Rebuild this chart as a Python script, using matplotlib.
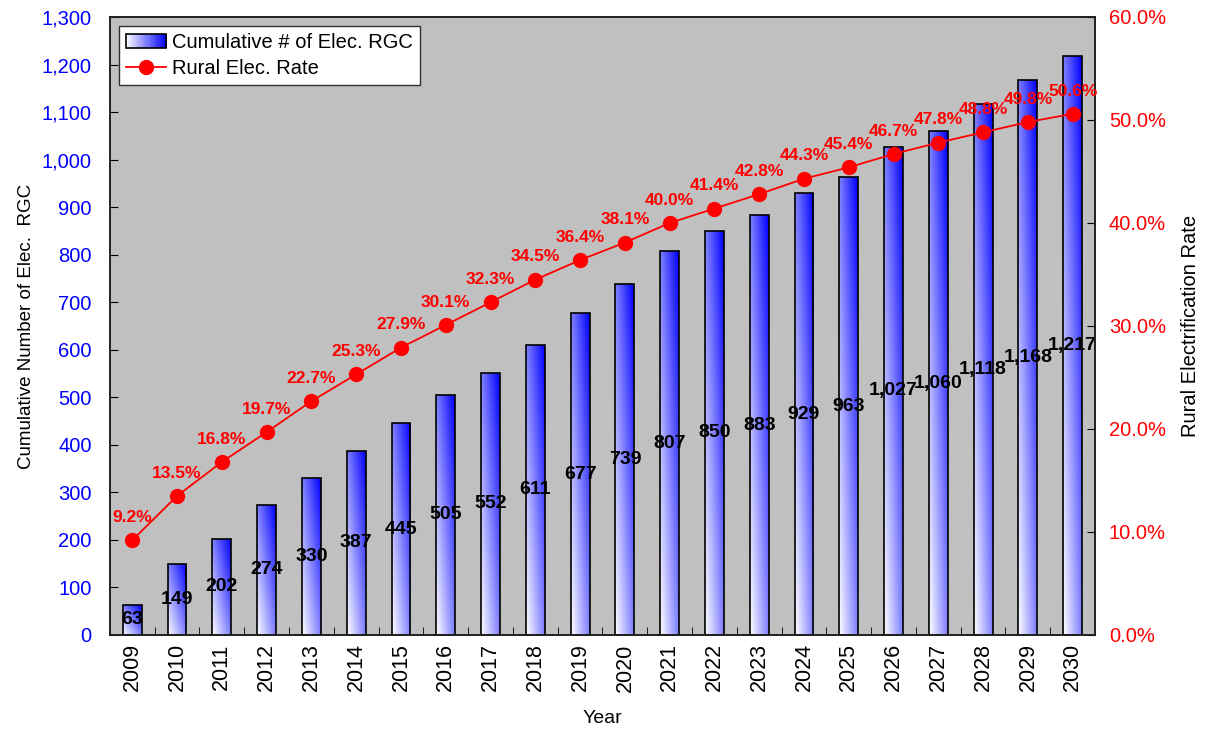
import numpy as np
import matplotlib
matplotlib.use("Agg")
import matplotlib.pyplot as plt
from matplotlib.patches import Rectangle
from matplotlib.lines import Line2D
from matplotlib.legend_handler import HandlerBase
from matplotlib.ticker import FuncFormatter, MultipleLocator

plt.rcParams['font.family'] = ['Liberation Sans', 'DejaVu Sans']

# data
years = [str(y) for y in range(2009, 2031)]
rgc_count = [63, 149, 202, 274, 330, 387, 445, 505, 552, 611, 677, 739,
             807, 850, 883, 929, 963, 1027, 1060, 1118, 1168, 1217]
elec_rate = [9.2, 13.5, 16.8, 19.7, 22.7, 25.3, 27.9, 30.1, 32.3, 34.5, 36.4,
             38.1, 40.0, 41.4, 42.8, 44.3, 45.4, 46.7, 47.8, 48.8, 49.8, 50.6]

x = np.arange(len(years))
bar_w = 0.42

# white -> blue diagonal gradient used for the bars
uu, vv = np.meshgrid(np.linspace(0, 1, 40), np.linspace(0, 1, 200))
t = 0.5 * (uu + vv)
grad = np.dstack([1 - t, 1 - t, np.ones_like(t)])


class GradHandler(HandlerBase):
    # legend box drawn as a few vertical strips going white -> blue
    def create_artists(self, legend, orig_handle, xdescent, ydescent,
                       width, height, fontsize, trans):
        arts = []
        n = 24
        for i in range(n):
            c = (i + 0.5) / n
            r = Rectangle((-xdescent + width * i / n, -ydescent), width / n + 0.3,
                          height, facecolor=(1 - c, 1 - c, 1), edgecolor='none',
                          transform=trans)
            arts.append(r)
        arts.append(Rectangle((-xdescent, -ydescent), width, height,
                              facecolor='none', edgecolor='black', lw=1.2,
                              transform=trans))
        return arts


fig = plt.figure(figsize=(12.08, 7.29), dpi=100)
ax = fig.add_axes([0.091, 0.129, 0.8155, 0.8477])
ax.set_facecolor('#C0C0C0')

bars = ax.bar(x, rgc_count, width=bar_w, facecolor='none',
              edgecolor='black', linewidth=1.2, zorder=3)
for b in bars:
    x0, y0 = b.get_x(), b.get_y()
    im = ax.imshow(grad, extent=[x0, x0 + b.get_width(), y0, y0 + b.get_height()],
                   origin='lower', aspect='auto', zorder=2, interpolation='bilinear')
    im.set_clip_path(b)

for xi, v in zip(x, rgc_count):
    ax.text(xi, v / 2, f"{v:,}", ha='center', va='center', fontsize=14,
            fontweight='bold', color='black', zorder=5)

ax.set_xlim(-0.5, len(years) - 0.5)
ax.set_ylim(0, 1300)
ax.yaxis.set_major_locator(MultipleLocator(100))
ax.yaxis.set_major_formatter(FuncFormatter(lambda v, p: f"{int(v):,}"))
ax.tick_params(axis='y', direction='in', length=6, labelsize=14.5,
               labelcolor='#0000FF', pad=13)
ax.set_xticks(x)
ax.set_xticklabels(years, rotation=90, fontsize=15.5)
ax.set_xticks(x[:-1] + 0.5, minor=True)
ax.tick_params(axis='x', which='major', length=0, pad=6)
ax.tick_params(axis='x', which='minor', direction='in', length=6)
ax.set_xlabel('Year', fontsize=14, labelpad=13)
ax.set_ylabel('Cumulative Number of Elec.  RGC', fontsize=13.5, labelpad=5)

ax2 = ax.twinx()
ax2.plot(x, elec_rate, color='#FF0000', lw=1.3, marker='o', markersize=10,
         zorder=4)
for xi, v in zip(x, elec_rate):
    ax2.annotate(f"{v:.1f}%", (xi, v), xytext=(0, 11), textcoords='offset points',
                 ha='center', va='bottom', fontsize=12.5, fontweight='bold',
                 color='#FF0000')
ax2.set_ylim(0, 60)
ax2.yaxis.set_major_locator(MultipleLocator(10))
ax2.yaxis.set_major_formatter(FuncFormatter(lambda v, p: f"{v:.1f}%"))
ax2.tick_params(axis='y', direction='in', length=6, labelsize=14.5,
                labelcolor='#FF0000', pad=10)
ax2.set_ylabel('Rural Electrification Rate', fontsize=14.5, labelpad=11)

for a in (ax, ax2):
    for s in a.spines.values():
        s.set_linewidth(1.2)
        s.set_color('#202020')

bar_handle = Rectangle((0, 0), 1, 1)
line_handle = Line2D([], [], color='#FF0000', lw=1.3, marker='o', markersize=10)
leg = ax2.legend([bar_handle, line_handle],
                 ['Cumulative # of Elec. RGC', 'Rural Elec. Rate'],
                 loc='upper left', fontsize=14.5, fancybox=False, framealpha=1,
                 edgecolor='#303030', borderaxespad=0.45, handletextpad=0.3,
                 labelspacing=0.35, borderpad=0.35,
                 handler_map={Rectangle: GradHandler()})
leg.get_frame().set_linewidth(1.0)
leg.set_zorder(10)

fig.savefig('out.png', dpi=100)
